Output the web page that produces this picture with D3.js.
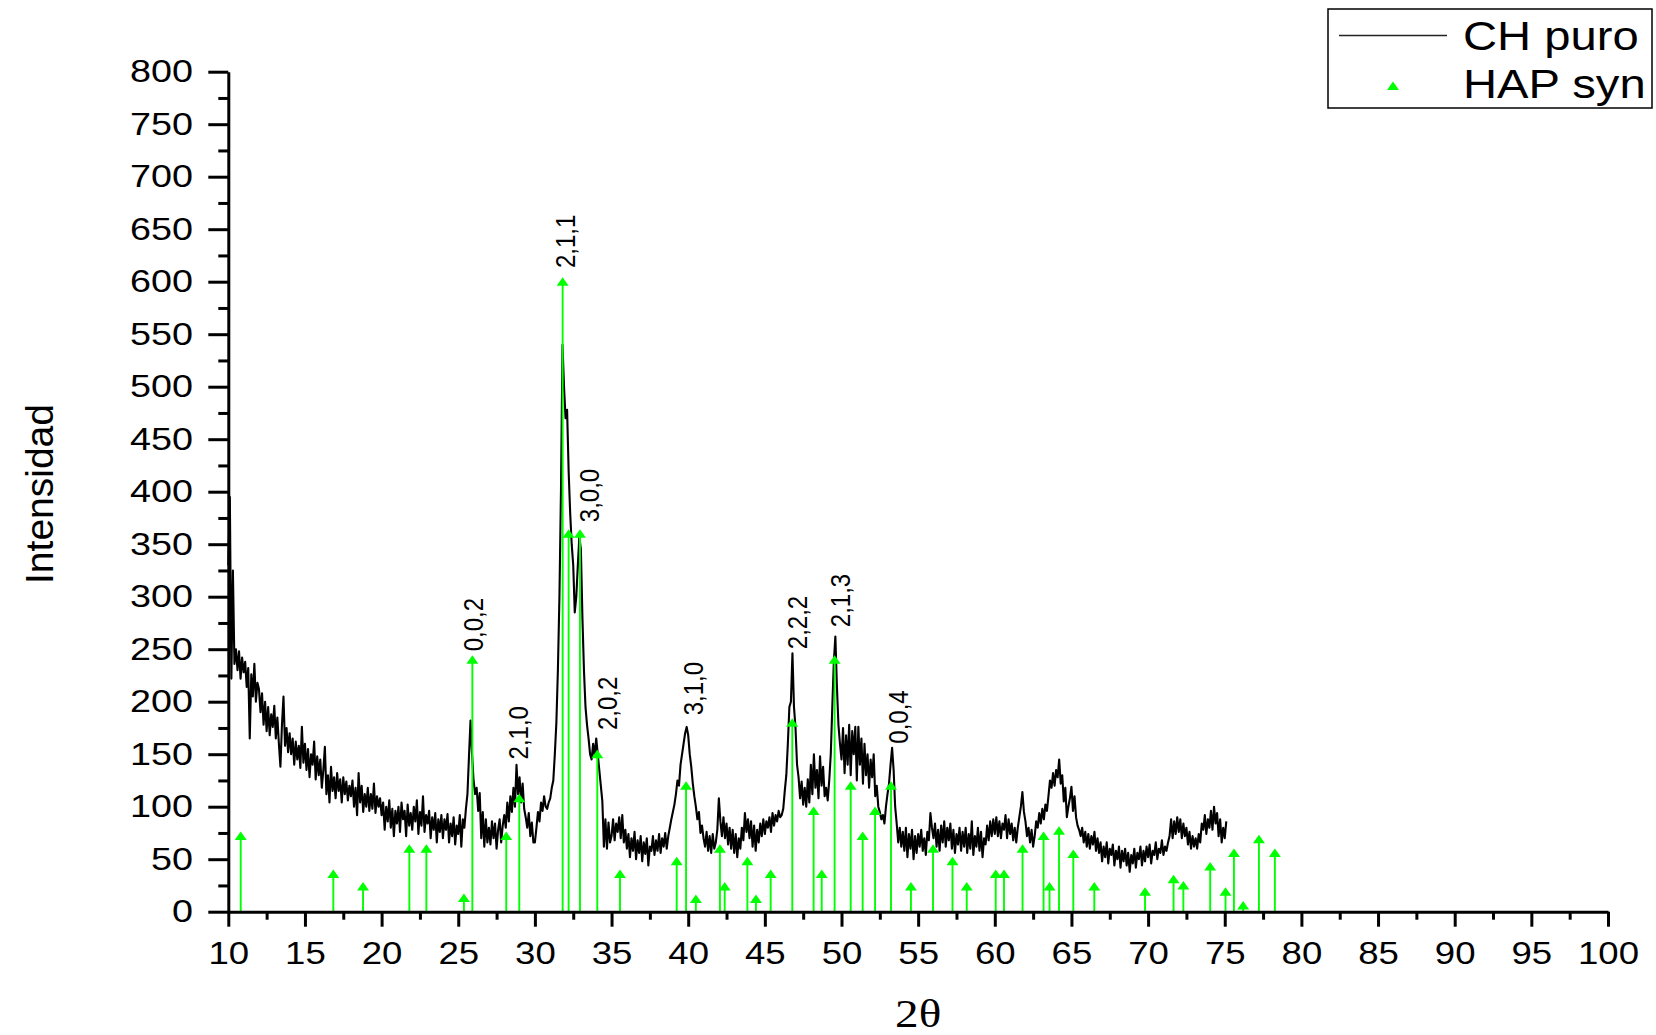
<!DOCTYPE html>
<html>
<head>
<meta charset="utf-8">
<title>DRX CH puro</title>
<script src="https://cdn.jsdelivr.net/npm/d3@7"></script>
<style>
  body { margin: 0; background: #fff; }
  svg { display: block; font-family: "Liberation Sans", Arial, sans-serif; }
</style>
</head>
<body>
<svg id="chart" width="1656" height="1035"></svg>
<script>
// CH puro pattern, every 0.1 deg starting at 10.0
const chStart = 10.0;
const chStep = 0.1;
const chIntensity = [
  330, 395, 222, 325, 236, 250, 230, 248, 222, 242,
  228, 238, 214, 232, 165, 226, 205, 236, 200, 218,
  212, 190, 208, 178, 200, 172, 195, 168, 188, 176,
  196, 165, 185, 160, 138, 178, 205, 158, 175, 152,
  170, 150, 165, 140, 162, 145, 158, 137, 176, 142,
  160, 135, 155, 128, 150, 140, 162, 126, 148, 130,
  145, 118, 135, 157, 112, 130, 104, 138, 115, 128,
  108, 132, 115, 126, 104, 128, 112, 124, 106, 120,
  110, 125, 100, 118, 92, 132, 104, 120, 95, 112,
  100, 118, 96, 112, 98, 122, 94, 110, 100, 108,
  92, 104, 78, 100, 86, 106, 80, 98, 72, 96,
  84, 100, 76, 104, 88, 96, 72, 102, 82, 94,
  78, 100, 86, 106, 74, 95, 82, 110, 76, 92,
  84, 96, 70, 90, 78, 94, 66, 88, 76, 92,
  70, 88, 78, 93, 66, 84, 72, 90, 64, 82,
  74, 92, 62, 88, 80, 98, 112, 148, 182, 150,
  125, 112, 118, 96, 113, 70, 95, 62, 88, 66,
  80, 64, 86, 70, 84, 60, 78, 88, 66, 82,
  92, 80, 104, 86, 110, 95, 118, 100, 140, 112,
  128, 104, 122, 98, 90, 80, 94, 72, 85, 66,
  66, 80, 95, 86, 104, 96, 110, 100, 98, 104,
  108, 118, 125, 150, 180, 230, 300, 400, 540, 500,
  470, 478, 420, 380, 350, 330, 285, 300, 330, 357,
  345, 280, 230, 195, 178, 165, 150, 145, 160, 148,
  165, 150, 135, 120, 105, 62, 88, 60, 85, 66,
  72, 88, 68, 84, 76, 90, 70, 92, 66, 78,
  60, 74, 52, 70, 58, 76, 50, 68, 56, 72,
  48, 66, 55, 70, 44, 62, 58, 72, 54, 68,
  58, 74, 56, 70, 62, 75, 60, 72, 80, 88,
  95, 102, 112, 125, 120, 140, 150, 160, 170, 176,
  168, 150, 138, 122, 110, 100, 88, 95, 75, 82,
  70, 62, 76, 58, 72, 56, 74, 60, 66, 78,
  108, 86, 72, 90, 70, 84, 64, 80, 60, 78,
  56, 74, 52, 70, 60, 80, 68, 94, 76, 88,
  70, 86, 62, 82, 58, 78, 66, 84, 72, 88,
  74, 86, 80, 90, 76, 94, 82, 92, 86, 96,
  90, 92, 98, 115, 130, 160, 195, 200, 246, 195,
  175, 140, 128, 108, 124, 102, 118, 100, 126, 104,
  140, 112, 150, 118, 135, 108, 148, 120, 138, 110,
  118, 106, 125, 150, 195, 238, 262, 215, 178, 160,
  145, 175, 132, 168, 140, 178, 130, 172, 150, 176,
  125, 176, 140, 165, 122, 160, 130, 150, 118, 145,
  128, 150, 110, 120, 100, 95, 88, 92, 84, 100,
  112, 122, 140, 156, 135, 100, 84, 66, 80, 62,
  76, 58, 80, 52, 74, 60, 78, 50, 72, 56,
  74, 62, 78, 58, 70, 54, 76, 68, 94, 80,
  70, 84, 62, 78, 58, 82, 66, 86, 62, 80,
  68, 84, 60, 78, 56, 74, 64, 80, 58, 76,
  62, 80, 56, 74, 60, 86, 54, 72, 62, 80,
  58, 76, 52, 70, 64, 82, 68, 86, 72, 88,
  74, 90, 72, 86, 70, 84, 78, 92, 70, 88,
  74, 84, 68, 80, 66, 80, 90, 100, 114, 95,
  86, 72, 80, 66, 78, 62, 72, 86, 80, 94,
  84, 98, 88, 102, 96, 110, 125, 118, 132, 120,
  135, 128, 145, 122, 130, 105, 118, 90, 100, 108,
  119, 96, 110, 90, 82, 78, 72, 80, 66, 76,
  62, 74, 60, 72, 64, 76, 58, 70, 56, 66,
  48, 62, 52, 66, 46, 60, 54, 64, 44, 58,
  50, 62, 42, 58, 48, 60, 44, 56, 38, 54,
  46, 60, 42, 56, 50, 62, 44, 58, 48, 62,
  52, 64, 46, 58, 54, 66, 50, 60, 56, 68,
  54, 62, 58, 66, 72, 88, 70, 86, 74, 90,
  76, 88, 70, 84, 72, 80, 64, 76, 60, 72,
  62, 70, 60, 74, 66, 84, 78, 92, 74, 88,
  80, 96, 78, 100, 84, 94, 72, 88, 66, 80,
  70, 86
];

// HAP syn reference sticks
const hapTheta = [10.81, 16.85, 18.79, 21.81, 22.92, 25.37, 25.92, 28.13, 28.98, 31.81,
  32.2, 32.94, 34.07, 35.55, 39.25, 39.86, 40.5, 42.07, 42.38, 43.86,
  44.42, 45.38, 46.79, 48.18, 48.71, 49.55, 50.6, 51.38, 52.19, 53.23,
  54.53, 55.97, 57.24, 58.17, 60.06, 60.6, 61.81, 63.18, 63.57, 64.19,
  65.12, 66.49, 69.8, 71.66, 72.3, 74.05, 75.05, 75.6, 76.2, 77.23, 78.27];
const hapIntensity = [72, 36, 24, 60, 60, 13, 240, 72, 108, 600,
  360, 360, 150, 36, 48, 120, 12, 60, 24, 48,
  12, 36, 180, 96, 36, 240, 120, 72, 96, 120,
  24, 60, 48, 24, 36, 36, 60, 72, 24, 77,
  55, 24, 19, 31, 25, 43, 19, 56, 6, 69, 56];

// Miller index annotations (start of the rotated text)
const hklText = ["0,0,2", "2,1,0", "2,1,1", "3,0,0", "2,0,2", "3,1,0", "2,2,2", "2,1,3", "0,0,4"];
const hklTheta = [25.96, 28.9, 31.96, 33.53, 34.7, 40.3, 47.08, 49.9, 53.68];
const hklIntensity = [248, 145, 613, 371, 173, 187, 250, 271, 160];

const xTicks = [10, 15, 20, 25, 30, 35, 40, 45, 50, 55, 60, 65, 70, 75, 80, 85, 90, 95, 100];
const xMinor = [12.5, 17.5, 22.5, 27.5, 32.5, 37.5, 42.5, 47.5, 52.5, 57.5, 62.5, 67.5, 72.5, 77.5, 82.5, 87.5, 92.5, 97.5];
const yTicks = [0, 50, 100, 150, 200, 250, 300, 350, 400, 450, 500, 550, 600, 650, 700, 750, 800];
const yMinor = [25, 75, 125, 175, 225, 275, 325, 375, 425, 475, 525, 575, 625, 675, 725, 775];

const legendNames = ["CH puro", "HAP syn"];

const svg = d3.select("#chart");
const green = "#00ff00";
const stretch = 1.18;

const x = d3.scaleLinear().domain([10, 100]).range([228.3, 1608]);
const y = d3.scaleLinear().domain([0, 800]).range([911.7, 71.7]);

const chData = chIntensity.map((v, i) => [chStart + i * chStep, v]);

// curve
const line = d3.line().x(d => x(d[0])).y(d => y(d[1]));
svg.append("path")
  .datum(chData)
  .attr("d", line)
  .attr("fill", "none")
  .attr("stroke", "#000")
  .attr("stroke-width", 2.1)
  .attr("stroke-linejoin", "round");

// sticks
const tri = "M-6,4L6,4L0,-4.5Z";
const sticks = svg.append("g");
hapTheta.forEach((t, i) => {
  sticks.append("line")
    .attr("x1", x(t)).attr("x2", x(t))
    .attr("y1", y(0)).attr("y2", y(hapIntensity[i]))
    .attr("stroke", green).attr("stroke-width", 1.9);
  sticks.append("path")
    .attr("d", tri)
    .attr("transform", `translate(${x(t)},${y(hapIntensity[i])})`)
    .attr("fill", green);
});

// hkl labels
svg.append("g").selectAll("text")
  .data(hklText)
  .join("text")
  .attr("transform", (d, i) => `translate(${x(hklTheta[i])},${y(hklIntensity[i])}) scale(${stretch},1) rotate(-90)`)
  .attr("dy", "0.35em")
  .attr("font-size", 24)
  .text(d => d);

// axes
function styleAxis(g) {
  g.select(".domain").attr("stroke-width", 3);
  g.selectAll(".tick line").attr("stroke-width", 3);
}

const gx = svg.append("g").attr("transform", `translate(0,${y(0)})`)
  .call(d3.axisBottom(x).tickValues(xTicks).tickFormat(d3.format("d"))
    .tickSize(15).tickSizeOuter(0).tickPadding(15));
styleAxis(gx);
gx.selectAll("text").attr("font-size", 31).attr("fill", "#000")
  .attr("font-family", "Liberation Sans, Arial, sans-serif")
  .attr("transform", `scale(${stretch},1)`);

const gxm = svg.append("g").attr("transform", `translate(0,${y(0)})`)
  .call(d3.axisBottom(x).tickValues(xMinor).tickFormat("").tickSize(8).tickSizeOuter(0));
gxm.select(".domain").remove();
gxm.selectAll(".tick line").attr("stroke-width", 3);

const gy = svg.append("g").attr("transform", `translate(${x(10)},0)`)
  .call(d3.axisLeft(y).tickValues(yTicks).tickFormat(d3.format("d"))
    .tickSize(20).tickSizeOuter(0));
styleAxis(gy);
gy.selectAll("text").attr("font-size", 32).attr("fill", "#000")
  .attr("font-family", "Liberation Sans, Arial, sans-serif")
  .attr("x", -35.3 / stretch)
  .attr("transform", `scale(${stretch},1)`);

const gym = svg.append("g").attr("transform", `translate(${x(10)},0)`)
  .call(d3.axisLeft(y).tickValues(yMinor).tickFormat("").tickSize(10).tickSizeOuter(0));
gym.select(".domain").remove();
gym.selectAll(".tick line").attr("stroke-width", 3);

// axis titles
svg.append("text")
  .attr("transform", `translate(${(x(10) + x(100)) / 2},1027) scale(${stretch},1)`)
  .attr("text-anchor", "middle")
  .attr("font-family", "Liberation Serif, Times New Roman, serif")
  .attr("font-size", 40)
  .text("2\u03b8");

svg.append("text")
  .attr("transform", `translate(53,494) scale(${stretch},1) rotate(-90)`)
  .attr("text-anchor", "middle")
  .attr("font-size", 33)
  .attr("textLength", 180)
  .attr("lengthAdjust", "spacingAndGlyphs")
  .text("Intensidad");

// legend
const lg = svg.append("g");
lg.append("rect")
  .attr("x", 1328).attr("y", 9).attr("width", 324).attr("height", 99)
  .attr("fill", "#fff").attr("stroke", "#000").attr("stroke-width", 1.5);
lg.append("line")
  .attr("x1", 1339).attr("x2", 1447).attr("y1", 35.5).attr("y2", 35.5)
  .attr("stroke", "#222").attr("stroke-width", 1.4);
lg.append("path").attr("d", tri).attr("transform", "translate(1393,86)").attr("fill", green);
lg.selectAll("text.name")
  .data(legendNames)
  .join("text")
  .attr("class", "name")
  .attr("transform", (d, i) => `translate(1463,${i === 0 ? 50 : 98}) scale(${stretch},1)`)
  .attr("font-size", 40)
  .text(d => d);
</script>
</body>
</html>
